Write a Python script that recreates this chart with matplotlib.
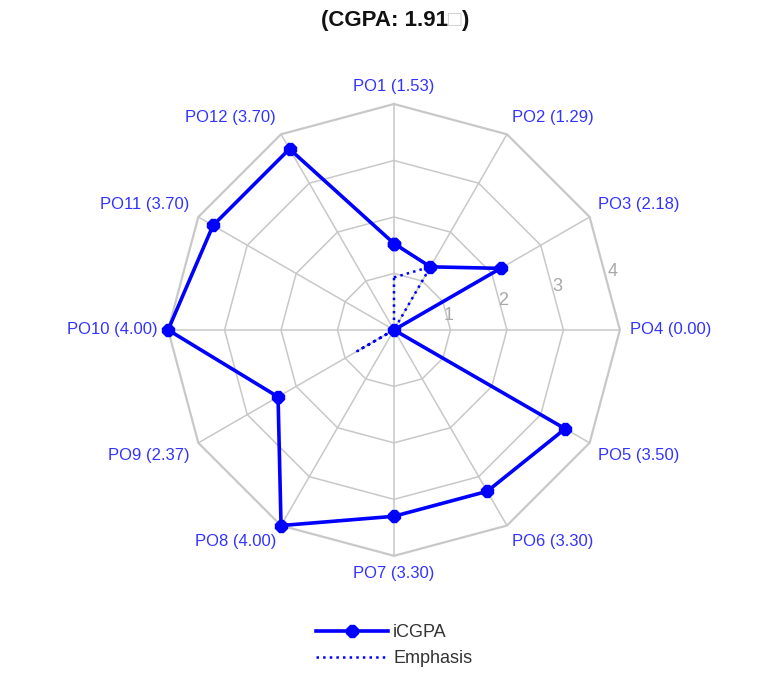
import numpy as np
import matplotlib
matplotlib.use("Agg")
import matplotlib.pyplot as plt

plt.rcParams['font.family'] = ['Liberation Sans', 'DejaVu Sans']

# data
po_names = ["PO1", "PO2", "PO3", "PO4", "PO5", "PO6",
            "PO7", "PO8", "PO9", "PO10", "PO11", "PO12"]
icgpa = [1.53, 1.29, 2.18, 0.00, 3.50, 3.30, 3.30, 4.00, 2.37, 4.00, 3.70, 3.70]
emphasis = [0.93, 1.29, 0.00, 0.00, 0.00, 0.00, 0.00, 0.00, 0.75, 0.00, 0.00, 0.00]
rings = [1, 2, 3, 4]
title_main = "(CGPA: 1.91"

n = len(po_names)
theta = np.arange(n) * 2 * np.pi / n
closed = np.append(theta, theta[0])

fig = plt.figure(figsize=(7.71, 6.74), dpi=100)
ax = fig.add_axes([0.218, 0.175, 0.586, 0.671], projection="polar")
ax.set_theta_zero_location("N")
ax.set_theta_direction(-1)
ax.set_ylim(0, 4)
ax.grid(False)
ax.spines["polar"].set_visible(False)
ax.set_xticks([])
ax.set_yticks([])

# polygon grid
grid_c = "#c8c8c8"
for r in rings:
    ax.plot(closed, [r] * (n + 1), color=grid_c, lw=1.1 if r < 4 else 1.6,
            zorder=1, clip_on=False)
for t in theta:
    ax.plot([t, t], [0, 4], color=grid_c, lw=1.1, zorder=1, clip_on=False)

# radial tick labels
for r in rings:
    ax.text(np.deg2rad(75), r, str(r), color="#a8a8a8", fontsize=13,
            ha="center", va="center", zorder=2)

ax.plot(closed, icgpa + icgpa[:1], color="#0000ff", lw=2.6, marker="8",
        markersize=9, zorder=4, clip_on=False, label="iCGPA")
ax.plot(closed, emphasis + emphasis[:1], color="#0000ff", lw=1.8, ls=":",
        zorder=3, clip_on=False, label="Emphasis")

# spoke labels
for t, name, v in zip(theta, po_names, icgpa):
    s, c = np.sin(t), np.cos(t)
    ha = "center" if abs(s) < 0.1 else ("left" if s > 0 else "right")
    va = "center" if abs(c) < 0.1 else ("bottom" if c > 0 else "top")
    ax.text(t, 4.18, f"{name} ({v:.2f})", color="#3333ff", fontsize=12,
            ha=ha, va=va)

# title: the box is a missing glyph, drawn light grey
t1 = fig.text(0.581, 0.970, title_main, ha="right", va="center", fontsize=16,
              fontweight="bold", color="#111111")
t2 = ax.annotate("\u25a1", xy=(1, 0), xycoords=t1, va="bottom", ha="left",
                 fontsize=16, color="#cccccc", annotation_clip=False)
ax.annotate(")", xy=(1, 0), xycoords=t2, va="bottom", ha="left",
            fontsize=16, fontweight="bold", color="#111111",
            annotation_clip=False)

fig.legend(loc="center", bbox_to_anchor=(0.511, 0.042), frameon=False,
           fontsize=13, handlelength=4.0, labelspacing=0.5,
           handletextpad=0.3, labelcolor="#333333")

fig.savefig("out.png", dpi=100)
